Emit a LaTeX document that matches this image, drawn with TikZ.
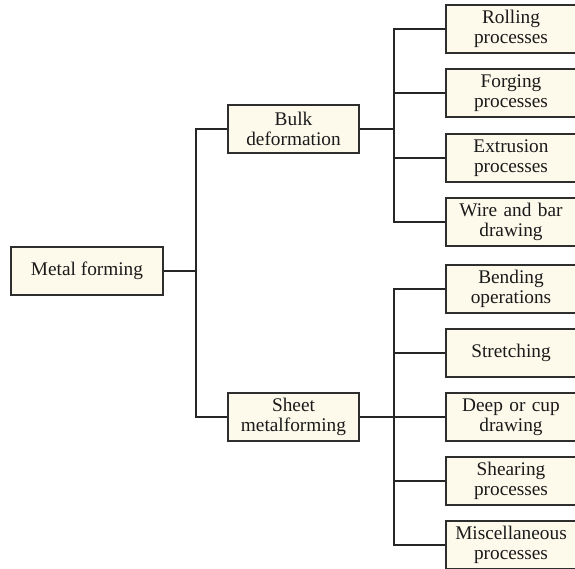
\documentclass[tikz,border=0pt]{standalone}
\usepackage{fontspec}
\setmainfont{Liberation Serif}
\definecolor{boxfill}{HTML}{FDF9EB}
\definecolor{boxline}{HTML}{2E2E2E}
\definecolor{txt}{HTML}{1A1A1A}
\begin{document}
\begin{tikzpicture}[x=1pt,y=-1pt,
  box/.style={draw=boxline,line width=1.9pt,fill=boxfill,minimum height=48pt,
    inner sep=0pt,align=center,text=txt,
    font=\fontsize{19.3}{20}\selectfont},
  leaf/.style={box,minimum width=130pt,text width=128pt},
  mid/.style={box,minimum width=131pt,text width=129pt},
  conn/.style={draw=black!85,line width=1.4pt}]
\useasboundingbox (0,0) rectangle (575,569);
\node[box,minimum width=152pt] (mf) at (87,271) {Metal forming};
\node[mid] (bulk) at (293.5,129) {Bulk\\deformation};
\node[mid] (sheet) at (293.5,417) {Sheet\\metalforming};
\node[leaf] (roll) at (511,29) {Rolling\\processes};
\node[leaf] (forg) at (511,93) {Forging\\processes};
\node[leaf] (extr) at (511,158) {Extrusion\\processes};
\node[leaf] (wire) at (511,222) {Wire and bar\\drawing};
\node[leaf] (bend) at (511,289) {Bending\\operations};
\node[leaf] (stre) at (511,353) {Stretching};
\node[leaf] (deep) at (511,417) {Deep or cup\\drawing};
\node[leaf] (shea) at (511,481) {Shearing\\processes};
\node[leaf] (misc) at (511,545) {Miscellaneous\\processes};
\foreach \c in {bulk,sheet}
  \draw[conn] (mf.east) -- ++(32,0) |- (\c.west);
\foreach \c in {roll,forg,extr,wire}
  \draw[conn] (bulk.east) -- ++(34,0) |- (\c.west);
\foreach \c in {bend,stre,deep,shea,misc}
  \draw[conn] (sheet.east) -- ++(34,0) |- (\c.west);
\end{tikzpicture}
\end{document}
